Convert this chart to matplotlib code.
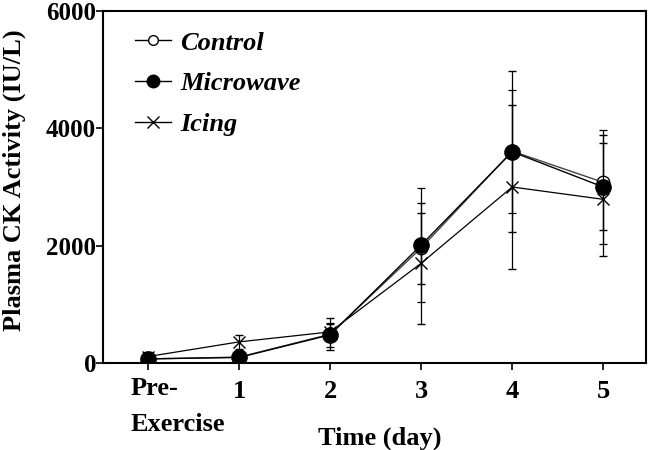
import matplotlib
matplotlib.use("Agg")
import matplotlib.pyplot as plt
import matplotlib.transforms as mtrans
from matplotlib.lines import Line2D

days = [0, 1, 2, 3, 4, 5]
tick_labels = ["Pre-\nExercise", "1", "2", "3", "4", "5"]

control_mean = [70, 100, 490, 1960, 3610, 3080]
control_err = [40, 60, 270, 605, 1372, 810]
microwave_mean = [70, 95, 480, 2010, 3600, 3000]
microwave_err = [40, 60, 205, 970, 1050, 975]
icing_mean = [110, 360, 530, 1700, 3000, 2790]
icing_err = [80, 120, 140, 1030, 1406, 958]

plt.rcParams['font.family'] = ['Liberation Serif', 'DejaVu Serif']
plt.rcParams['font.weight'] = 'bold'

fig = plt.figure(figsize=(6.5, 4.5), dpi=100)
ax = fig.add_axes([103/650, 1 - 363/450, (646-103)/650, (363-11)/450])

ekw = dict(ecolor='black', elinewidth=0.9, capsize=3, capthick=0.9)
ax.errorbar(days, icing_mean, yerr=icing_err, color='black', lw=0.9,
            marker='x', ms=8, mew=1.0, zorder=2, **ekw)
ax.errorbar(days, control_mean, yerr=control_err, color='#444444', lw=1.0,
            marker='o', ms=9, mfc='white', mec='black', mew=1.0, zorder=3, **ekw)
ax.errorbar(days, microwave_mean, yerr=microwave_err, color='black', lw=1.0,
            marker='o', ms=11, mfc='black', mec='black', zorder=4, **ekw)

ax.set_xlim(-0.495, 5.47)
ax.set_ylim(0, 6000)
ax.set_yticks([0, 2000, 4000, 6000])
ax.set_xticks(days)
ax.set_xticklabels([""] + tick_labels[1:], fontsize=19, fontweight='bold')
for lab in ax.get_yticklabels():
    lab.set_fontsize(18)
    lab.set_fontweight('bold')
ax.tick_params(axis='both', direction='out', length=5, width=1.2)
ax.tick_params(axis='x', pad=7)
ax.tick_params(axis='y', pad=0)
for s in ax.spines.values():
    s.set_linewidth(1.5)

# left-aligned two-line first category label
off = mtrans.ScaledTranslation(-17/100, -14/100, fig.dpi_scale_trans)
ax.text(days[0], 0, tick_labels[0], transform=ax.get_xaxis_transform() + off,
        ha='left', va='top', fontsize=19, fontweight='bold', linespacing=1.7,
        multialignment='left')

ax.set_ylabel("Plasma CK Activity (IU/L)", fontsize=19, fontweight='bold')
ax.yaxis.set_label_coords(-0.142, 0.52)
ax.set_xlabel("Time (day)", fontsize=19, fontweight='bold')
ax.xaxis.set_label_coords(0.51, -0.18)

handles = [
    Line2D([], [], color='black', lw=1, marker='o', ms=7, mfc='white', mec='black'),
    Line2D([], [], color='black', lw=1, marker='o', ms=9, mfc='black', mec='black'),
    Line2D([], [], color='black', lw=1, marker='x', ms=8),
]
ax.legend(handles, ["Control", "Microwave", "Icing"], loc='upper left',
          bbox_to_anchor=(0.059, 0.943), frameon=False, handlelength=1.35,
          labelspacing=0.66, handletextpad=0.35, borderpad=0, borderaxespad=0,
          prop={'family': 'Liberation Serif', 'weight': 'bold', 'style': 'italic', 'size': 19})

fig.savefig("out.png", dpi=100)
